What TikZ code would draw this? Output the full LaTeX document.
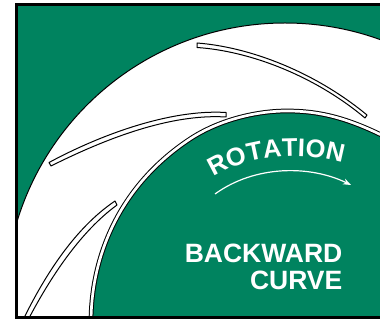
\documentclass[tikz,border=0pt]{standalone}
\usepackage{fontspec}
\setmainfont{Liberation Sans}
\usetikzlibrary{arrows.meta,decorations.text}
\definecolor{casegreen}{HTML}{00835F}
\newcommand{\hubcurve}{(91,322) .. controls (91,265) and (113,190) .. (190,139) .. controls (218,120.5) and (255,111) .. (287,111) .. controls (320,111) and (350,118) .. (395,142)}
\tikzset{
    bladeline/.style={draw=black, fill=white, line width=1pt, line join=round},
    hubline/.style={draw=black, double=white, double distance=2.7pt, line width=1pt},
    curvelabel/.style={text=white, font=\fontsize{26.5}{27}\selectfont\bfseries, align=right, inner sep=0pt}
}
\begin{document}
\begin{tikzpicture}[x=1pt, y=-1pt]
    \useasboundingbox (0,0) rectangle (380,320);
    \clip (0,0) rectangle (380,320);

    % Casing background
    \fill[casegreen] (16.3,4.7) rectangle (385,317.3);

    % Impeller disc
    \begin{scope}
        \clip (16.3,4.7) rectangle (385,317.3);
        \draw[draw=black, line width=1pt, fill=white] (285,303) circle (280);

        % Blade 1 (top)
        \draw[bladeline] (197,43) .. controls (250,47) and (315,72) .. (367,115)
            -- (365,118) .. controls (315,76) and (250,51) .. (197,47.5) -- cycle;

        % Blade 2 (middle)
        \draw[bladeline] (49,162.5) .. controls (100,135) and (170,109) .. (226,112.5)
            -- (226,117) .. controls (170,113.5) and (105,139) .. (51,166) -- cycle;

        % Blade 3 (bottom)
        \draw[bladeline] (23,320) .. controls (45,275) and (75,228) .. (115,201)
            -- (117,205) .. controls (80,232) and (50,278) .. (28,320) -- cycle;

        % Hub and its ring
        \fill[casegreen] \hubcurve -- (395,322) -- cycle;
        \draw[hubline] \hubcurve;
    \end{scope}

    % Rotation label and arrow
    \path[decorate, decoration={text along path, text align=center,
        text={|\fontsize{25.5}{26}\selectfont\bfseries\color{white}|ROTATION}}]
        (208,181) .. controls (240,156) and (302,149) .. (349,165);
    \coordinate (rotstart) at (215,194);
    \coordinate (rotend) at (351,185);
    \draw[white, line width=1.2pt, -{Stealth[length=8pt,width=6pt]}]
        (rotstart) .. controls (255,165) and (310,165) .. (rotend);

    % Curve type label
    \node[curvelabel, anchor=north east] (curvetype) at (342.5,244) {BACKWARD\\CURVE};

    % Frame
    \draw[black, line width=2.7pt] (16.3,4.7) rectangle (390,317.3);
\end{tikzpicture}
\end{document}
